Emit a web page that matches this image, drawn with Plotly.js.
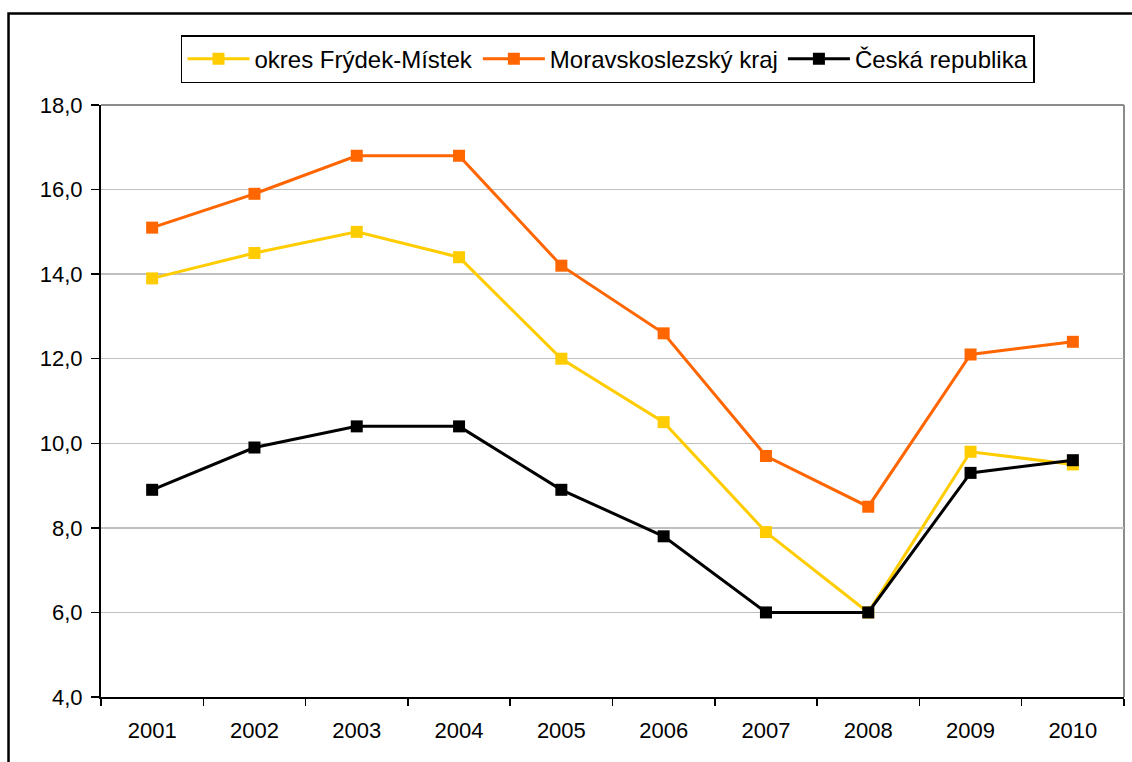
<!DOCTYPE html>
<html>
<head>
<meta charset="utf-8">
<script src="https://cdn.plot.ly/plotly-3.0.1.min.js"></script>
<style>html,body{margin:0;padding:0;background:#fff;}#chart{width:1132px;height:762px;}</style>
</head>
<body>
<div id="chart"></div>
<script>
const years = ['2001','2002','2003','2004','2005','2006','2007','2008','2009','2010'];
const frydekMistek = [13.9, 14.5, 15.0, 14.4, 12.0, 10.5, 7.9, 6.0, 9.8, 9.5];
const moravskoslezsky = [15.1, 15.9, 16.8, 16.8, 14.2, 12.6, 9.7, 8.5, 12.1, 12.4];
const ceskaRepublika = [8.9, 9.9, 10.4, 10.4, 8.9, 7.8, 6.0, 6.0, 9.3, 9.6];
const seriesNames = ['okres Frýdek-Místek', 'Moravskoslezský kraj', 'Česká republika'];
const seriesColors = ['#FFCC00', '#FF6600', '#000000'];

const FONT = 'Liberation Sans, Arial, sans-serif';
const allSeries = [frydekMistek, moravskoslezsky, ceskaRepublika];
const traces = allSeries.map((vals, i) => ({
  type: 'scatter',
  mode: 'lines+markers',
  x: years,
  y: vals,
  name: seriesNames[i],
  line: {color: seriesColors[i], width: 3},
  marker: {symbol: 'square', size: 12, color: seriesColors[i]}
}));

const layout = {
  width: 1132,
  height: 762,
  margin: {l: 101, r: 8, t: 105, b: 65},
  paper_bgcolor: '#ffffff',
  plot_bgcolor: '#ffffff',
  separators: ', ',
  font: {family: FONT, size: 22, color: '#000'},
  showlegend: true,
  legend: {
    orientation: 'h',
    x: 0.4956, xanchor: 'center',
    y: 1.118, yanchor: 'top',
    bordercolor: '#000', borderwidth: 1.5,
    bgcolor: '#fff',
    font: {family: FONT, size: 24, color: '#000'},
    itemwidth: 62
  },
  xaxis: {
    type: 'category',
    range: [-0.5, 9.5],
    showline: true, linecolor: '#000', linewidth: 2,
    ticks: 'outside', tickson: 'boundaries', ticklen: 7, tickwidth: 1.5, tickcolor: '#000',
    showgrid: false, zeroline: false,
    tickfont: {family: FONT, size: 22, color: '#000'},
    ticklabelstandoff: 13
  },
  yaxis: {
    range: [4, 18], dtick: 2, tick0: 4,
    tickformat: '.1f',
    showline: true, linecolor: '#000', linewidth: 2,
    ticks: 'outside', ticklen: 8, tickwidth: 1.5, tickcolor: '#000',
    showgrid: true, gridcolor: '#c0c0c0', gridwidth: 1.5,
    zeroline: false,
    tickfont: {family: FONT, size: 22, color: '#000'},
    ticklabelstandoff: 4
  },
  shapes: [
    {type: 'rect', xref: 'paper', yref: 'paper', x0: -0.0904, x1: 1.03, y0: 1.1546, y1: -0.15,
     line: {color: '#000', width: 2.5}, fillcolor: 'rgba(0,0,0,0)', layer: 'below'},
    {type: 'line', xref: 'paper', yref: 'paper', x0: 1, x1: 1, y0: 0, y1: 1,
     line: {color: '#8c8c8c', width: 2}, layer: 'below'},
    {type: 'line', xref: 'paper', yref: 'paper', x0: 0, x1: 1, y0: 1, y1: 1,
     line: {color: '#8c8c8c', width: 2}, layer: 'below'}
  ]
};

Plotly.newPlot('chart', traces, layout, {displayModeBar: false, staticPlot: true});
</script>
</body>
</html>
